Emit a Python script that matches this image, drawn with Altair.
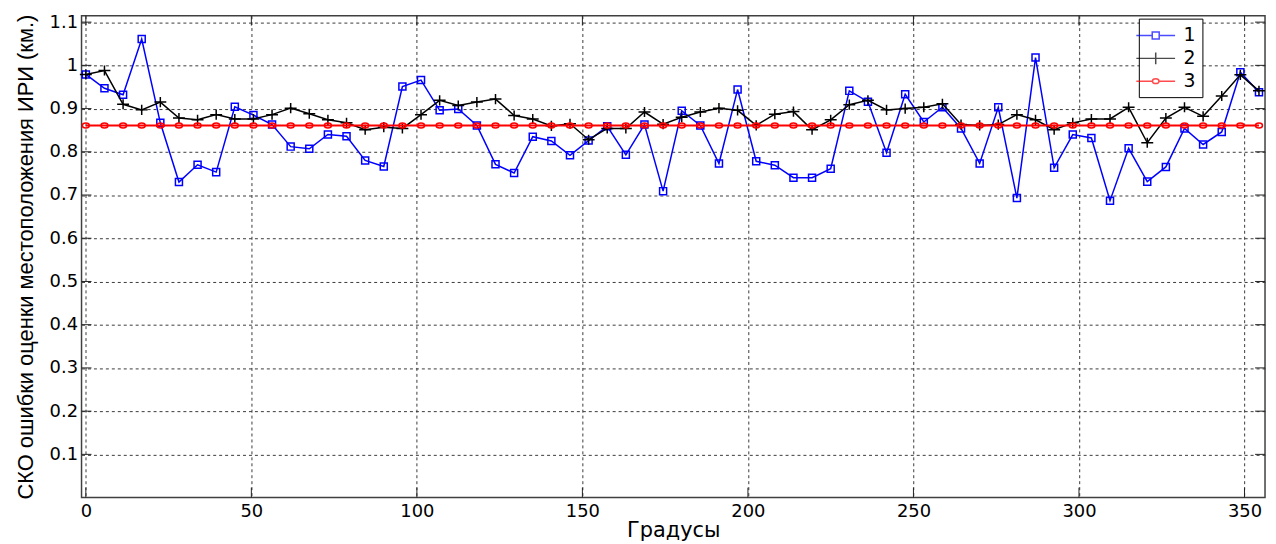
import altair as alt
import pandas as pd

deg = [0.0, 5.625, 11.25, 16.875, 22.5, 28.125, 33.75, 39.375, 45.0, 50.625,
       56.25, 61.875, 67.5, 73.125, 78.75, 84.375, 90.0, 95.625, 101.25, 106.875,
       112.5, 118.125, 123.75, 129.375, 135.0, 140.625, 146.25, 151.875, 157.5, 163.125,
       168.75, 174.375, 180.0, 185.625, 191.25, 196.875, 202.5, 208.125, 213.75, 219.375,
       225.0, 230.625, 236.25, 241.875, 247.5, 253.125, 258.75, 264.375, 270.0, 275.625,
       281.25, 286.875, 292.5, 298.125, 303.75, 309.375, 315.0, 320.625, 326.25, 331.875,
       337.5, 343.125, 348.75, 354.375]

s1 = [0.979, 0.947, 0.932, 1.061, 0.867, 0.730, 0.770, 0.753, 0.904, 0.885,
      0.863, 0.812, 0.807, 0.840, 0.836, 0.780, 0.766, 0.951, 0.966, 0.896,
      0.899, 0.861, 0.771, 0.751, 0.835, 0.825, 0.792, 0.826, 0.859, 0.793,
      0.863, 0.709, 0.895, 0.861, 0.773, 0.944, 0.778, 0.769, 0.740, 0.740,
      0.761, 0.941, 0.916, 0.798, 0.933, 0.869, 0.903, 0.854, 0.773, 0.903,
      0.693, 1.018, 0.763, 0.840, 0.832, 0.687, 0.808, 0.731, 0.765, 0.854,
      0.817, 0.846, 0.984, 0.938]

s2 = [0.979, 0.988, 0.910, 0.897, 0.915, 0.878, 0.874, 0.886, 0.876, 0.876,
      0.886, 0.901, 0.888, 0.874, 0.867, 0.851, 0.857, 0.854, 0.886, 0.919,
      0.907, 0.915, 0.922, 0.884, 0.876, 0.860, 0.865, 0.828, 0.854, 0.854,
      0.892, 0.864, 0.880, 0.892, 0.901, 0.896, 0.861, 0.887, 0.893, 0.851,
      0.874, 0.909, 0.919, 0.897, 0.900, 0.903, 0.911, 0.863, 0.861, 0.863,
      0.886, 0.874, 0.851, 0.867, 0.876, 0.876, 0.903, 0.821, 0.878, 0.903,
      0.882, 0.929, 0.978, 0.941]

s3 = [0.861, 0.861, 0.861, 0.861, 0.861, 0.861, 0.861, 0.861, 0.861, 0.861,
      0.861, 0.861, 0.861, 0.861, 0.861, 0.861, 0.861, 0.861, 0.861, 0.861,
      0.861, 0.861, 0.861, 0.861, 0.861, 0.861, 0.861, 0.861, 0.861, 0.861,
      0.861, 0.861, 0.861, 0.861, 0.861, 0.861, 0.861, 0.861, 0.861, 0.861,
      0.861, 0.861, 0.861, 0.861, 0.861, 0.861, 0.861, 0.861, 0.861, 0.861,
      0.861, 0.861, 0.861, 0.861, 0.861, 0.861, 0.861, 0.861, 0.861, 0.861,
      0.861, 0.861, 0.861, 0.861]

series_names = ["1", "2", "3"]
series_colors = ["#0000ff", "#000000", "#ff0000"]

xticks = [0, 50, 100, 150, 200, 250, 300, 350]
yticks = [0.1, 0.2, 0.3, 0.4, 0.5, 0.6, 0.7, 0.8, 0.9, 1.0, 1.1]

x_title = "Градусы"
y_title = "СКО ошибки оценки местоположения ИРИ (км.)"

W, H = 1191, 485

# marker shapes (unit paths)
SQUARE = "square"
PLUS = "M-1,0L1,0M0,-0.85L0,0.85"
ELLIPSE = "M-1,0A1,0.72 0 1,1 1,0A1,0.72 0 1,1 -1,0Z"

LEG_PATHS = [
    "M-1.95,0L-0.35,0M-0.35,-0.35L0.35,-0.35L0.35,0.35L-0.35,0.35ZM0.35,0L1.95,0",
    "M-1.95,0L1.95,0M0,-0.6L0,0.6",
    "M-1.95,0L-0.33,0A0.33,0.24 0 1,1 0.33,0A0.33,0.24 0 1,1 -0.33,0M0.33,0L1.95,0",
]

xscale = alt.Scale(domain=[-1.3, 356.2], nice=False, zero=False)
yscale = alt.Scale(domain=[0, 1.115], nice=False, zero=False)

x_axis = alt.Axis(values=xticks, title=x_title, grid=True, gridColor="#3a3a3a",
                  gridDash=[3, 3], gridWidth=1, domain=False, ticks=False, tickSize=0,
                  labelFont="DejaVu Sans", labelFontSize=18, labelColor="black",
                  labelPadding=5, labelBaseline="top",
                  titleFont="DejaVu Sans", titleFontSize=21, titleFontWeight="normal",
                  titleColor="black", titleBaseline="alphabetic", titleY=39)
y_axis = alt.Axis(values=yticks, format="~g", title=y_title, grid=True, gridColor="#3a3a3a",
                  gridDash=[3, 3], gridWidth=1, domain=False, ticks=False, tickSize=0,
                  labelFont="DejaVu Sans", labelFontSize=18, labelColor="black",
                  labelPadding=4,
                  titleFont="Liberation Sans", titleFontSize=22, titleFontWeight="normal",
                  titleColor="black", titleAngle=270, titleBaseline="alphabetic",
                  titleX=-49, titleAlign="center")

layers = []

# inward tick marks on all four sides
df_xt = pd.DataFrame({"deg": xticks})
df_yt = pd.DataFrame({"val": yticks})
tick_color = "#222222"
layers.append(alt.Chart(df_xt).mark_rule(color=tick_color, strokeWidth=1).encode(
    x=alt.X("deg:Q", scale=xscale, axis=x_axis), y=alt.value(H), y2=alt.value(H - 10)))
layers.append(alt.Chart(df_xt).mark_rule(color=tick_color, strokeWidth=1).encode(
    x=alt.X("deg:Q", scale=xscale), y=alt.value(0), y2=alt.value(10)))
layers.append(alt.Chart(df_yt).mark_rule(color=tick_color, strokeWidth=1).encode(
    y=alt.Y("val:Q", scale=yscale, axis=y_axis), x=alt.value(0), x2=alt.value(10)))
layers.append(alt.Chart(df_yt).mark_rule(color=tick_color, strokeWidth=1).encode(
    y=alt.Y("val:Q", scale=yscale), x=alt.value(W), x2=alt.value(W - 10)))

styles = [
    (s1, series_colors[0], 1.5, SQUARE, 50),
    (s2, series_colors[1], 1.5, PLUS, 144),
    (s3, series_colors[2], 2.0, ELLIPSE, 49),
]
for vals, col, lw, shp, sz in styles:
    df = pd.DataFrame({"deg": deg, "val": vals})
    base = alt.Chart(df).encode(x=alt.X("deg:Q", scale=xscale), y=alt.Y("val:Q", scale=yscale))
    layers.append(base.mark_line(color=col, strokeWidth=lw))
    layers.append(base.mark_point(shape=shp, size=sz, color=col, filled=False,
                                  strokeWidth=1.5, opacity=1))

# legend layer (no visible marks, legend only)
df_long = pd.DataFrame({
    "deg": deg * 3,
    "val": s1 + s2 + s3,
    "series": [series_names[0]] * len(deg) + [series_names[1]] * len(deg) + [series_names[2]] * len(deg),
})
leg = alt.Legend(title=None, orient="none", legendX=1064, legendY=3,
                 symbolSize=400, symbolStrokeWidth=1.5, symbolOffset=0,
                 labelOffset=17, labelFontSize=19, labelFont="DejaVu Sans",
                 labelColor="black", fillColor="white", strokeColor="#000000",
                 padding=6, rowPadding=2)
layers.append(alt.Chart(df_long).transform_filter("false").mark_point(filled=False).encode(
    x=alt.X("deg:Q", scale=xscale), y=alt.Y("val:Q", scale=yscale),
    color=alt.Color("series:N", scale=alt.Scale(domain=series_names, range=series_colors), legend=leg),
    shape=alt.Shape("series:N", scale=alt.Scale(domain=series_names, range=LEG_PATHS), legend=leg),
))

chart = alt.layer(*layers).properties(
    width=W, height=H,
    autosize=alt.AutoSizeParams(type="none"),
    padding={"left": 74, "top": 6, "right": 3, "bottom": 44},
    background="white",
).configure_view(stroke="#404040", strokeWidth=1.5)

chart.save("out.html", embed_options={"renderer": "svg", "actions": False})
